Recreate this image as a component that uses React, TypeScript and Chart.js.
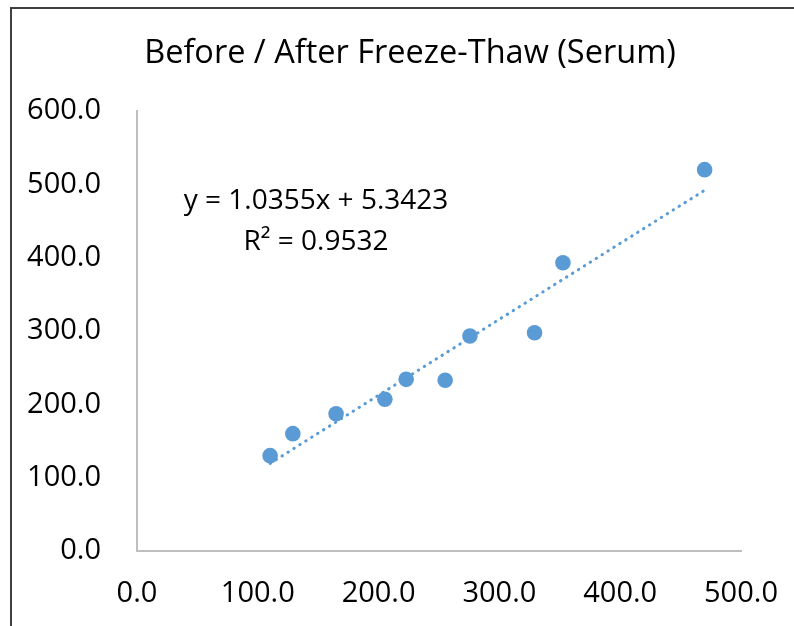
import React, { useEffect, useRef } from "react";
import { Chart, registerables } from "chart.js";

Chart.register(...registerables);

const TITLE = "Before / After Freeze-Thaw (Serum)";
const beforeValues = [110.2, 129.0, 164.8, 205.2, 222.8, 255.1, 275.6, 329.1, 352.6, 469.9];
const afterValues = [130.0, 160.0, 187.2, 206.9, 234.1, 232.8, 293.2, 297.7, 393.1, 520.0];
const TREND_SLOPE = 1.0355;
const TREND_INTERCEPT = 5.3423;
const R_SQUARED = 0.9532;
const X_MIN = 0;
const X_MAX = 500;
const Y_MIN = 0;
const Y_MAX = 600;
const TICK_STEP = 100;

const BLUE = "#5B9BD5";
const FONT = '"Open Sans", "Noto Sans", sans-serif';

export default function App() {
  const canvasRef = useRef<HTMLCanvasElement | null>(null);

  useEffect(() => {
    const canvas = canvasRef.current;
    if (!canvas) return;

    const points = beforeValues.map((x, i) => ({ x, y: afterValues[i] }));
    const xLo = Math.min(...beforeValues);
    const xHi = Math.max(...beforeValues);
    const trend = [
      { x: xLo, y: TREND_SLOPE * xLo + TREND_INTERCEPT },
      { x: xHi, y: TREND_SLOPE * xHi + TREND_INTERCEPT },
    ];
    const eqLabel = `y = ${TREND_SLOPE.toFixed(4)}x + ${TREND_INTERCEPT.toFixed(4)}`;
    const r2Label = `R² = ${R_SQUARED.toFixed(4)}`;

    const textPlugin = {
      id: "texts",
      afterDraw(chart: any) {
        const ctx = chart.ctx as CanvasRenderingContext2D;
        ctx.save();
        ctx.fillStyle = "#000";
        ctx.textAlign = "center";
        ctx.textBaseline = "alphabetic";
        ctx.font = `32.5px ${FONT}`;
        ctx.fillText(TITLE, 410, 63);
        ctx.font = `28px ${FONT}`;
        ctx.fillText(eqLabel, 316, 209);
        ctx.fillText(r2Label, 316, 250);
        ctx.restore();
      },
    };

    const zeroPad = (s: any) => {
      s.paddingLeft = 0;
      s.paddingRight = 0;
      s.paddingTop = 0;
      s.paddingBottom = 0;
    };

    const chart = new Chart(canvas, {
      type: "scatter",
      data: {
        datasets: [
          {
            label: "After",
            data: points,
            backgroundColor: BLUE,
            borderColor: BLUE,
            pointRadius: 7.8,
            pointHoverRadius: 7.8,
            borderWidth: 0,
          },
          {
            type: "line",
            label: "Trend",
            data: trend,
            borderColor: BLUE,
            borderWidth: 3,
            borderDash: [0.5, 6.5],
            borderCapStyle: "round",
            pointRadius: 0,
            fill: false,
            tension: 0,
          } as any,
        ],
      },
      options: {
        responsive: false,
        animation: false,
        devicePixelRatio: 1,
        layout: { padding: { left: 0, right: 53, top: 111, bottom: 0 } },
        plugins: {
          legend: { display: false },
          title: { display: false },
          tooltip: { enabled: false },
        },
        scales: {
          x: {
            type: "linear",
            min: X_MIN,
            max: X_MAX,
            ticks: {
              stepSize: TICK_STEP,
              color: "#000",
              font: { family: FONT, size: 29 },
              padding: 25,
              callback: (v: any) => Number(v).toFixed(1),
              maxRotation: 0,
            },
            grid: { display: false, drawTicks: false },
            border: { display: true, color: "#bfbfbf", width: 2 },
            afterFit: (s: any) => {
              s.height = 75;
              zeroPad(s);
            },
          },
          y: {
            type: "linear",
            min: Y_MIN,
            max: Y_MAX,
            ticks: {
              stepSize: TICK_STEP,
              color: "#000",
              font: { family: FONT, size: 29 },
              padding: 36,
              callback: (v: any) => Number(v).toFixed(1),
            },
            grid: { display: false, drawTicks: false },
            border: { display: true, color: "#bfbfbf", width: 2 },
            afterFit: (s: any) => {
              s.width = 137;
              zeroPad(s);
            },
          },
        },
      },
      plugins: [textPlugin],
    });

    return () => chart.destroy();
  }, []);

  return (
    <div
      style={{
        position: "fixed",
        left: 0,
        top: 0,
        width: 794,
        height: 626,
        overflow: "hidden",
        background: "#fff",
      }}
    >
      <canvas
        ref={canvasRef}
        width={794}
        height={626}
        style={{ position: "absolute", left: 0, top: 0, width: 794, height: 626 }}
      />
      <div
        style={{
          position: "absolute",
          left: 10,
          top: 7,
          width: 900,
          height: 900,
          borderTop: "2px solid #404040",
          borderLeft: "2px solid #404040",
          pointerEvents: "none",
        }}
      />
    </div>
  );
}
